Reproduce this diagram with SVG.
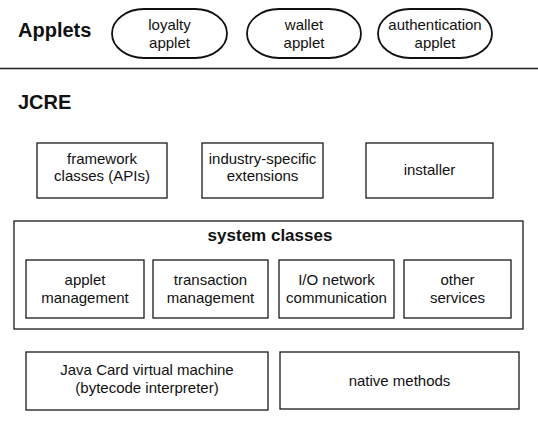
<svg xmlns="http://www.w3.org/2000/svg" width="538" height="427" viewBox="0 0 538 427">
<style>
  .bg{fill:#fff}
  .box{fill:none;stroke:#1a1a1a;stroke-width:1.3}
  .pill{fill:none;stroke:#111;stroke-width:1.8}
  .t{font-family:"Liberation Sans",Arial,sans-serif;font-size:15px;fill:#111;text-anchor:middle}
  .h{font-family:"Liberation Sans",Arial,sans-serif;font-size:20px;font-weight:bold;fill:#111}
  .hb{font-family:"Liberation Sans",Arial,sans-serif;font-size:17px;font-weight:bold;fill:#111;text-anchor:middle}
  .sep{stroke:#222;stroke-width:1.4}
</style>
<rect class="bg" x="0" y="0" width="538" height="427"/>
<text class="h" x="18" y="37">Applets</text>
<g id="loyalty">
  <rect class="pill" x="112" y="9" width="115" height="49" rx="32" ry="24.5"/>
  <text class="t" x="169.5" y="30">loyalty</text>
  <text class="t" x="169.5" y="48">applet</text>
</g>
<g id="wallet">
  <rect class="pill" x="247" y="9" width="114" height="49" rx="32" ry="24.5"/>
  <text class="t" x="304" y="30">wallet</text>
  <text class="t" x="304" y="48">applet</text>
</g>
<g id="authentication">
  <rect class="pill" x="378" y="9" width="114" height="49" rx="32" ry="24.5"/>
  <text class="t" x="435" y="30">authentication</text>
  <text class="t" x="435" y="48">applet</text>
</g>
<line class="sep" x1="0" y1="68.5" x2="538" y2="68.5"/>
<text class="h" x="18" y="109">JCRE</text>
<g id="framework">
  <rect class="box" x="37" y="143" width="130" height="55"/>
  <text class="t" x="102" y="164">framework</text>
  <text class="t" x="102" y="181">classes (APIs)</text>
</g>
<g id="industry">
  <rect class="box" x="202" y="143" width="121" height="55"/>
  <text class="t" x="262.5" y="164">industry-specific</text>
  <text class="t" x="262.5" y="181">extensions</text>
</g>
<g id="installer">
  <rect class="box" x="366" y="143" width="127" height="55"/>
  <text class="t" x="429.5" y="175">installer</text>
</g>
<g id="system">
  <rect class="box" x="14" y="221" width="509" height="108"/>
  <text class="hb" x="270" y="241">system classes</text>
</g>
<g id="appletmgmt">
  <rect class="box" x="26" y="260" width="118" height="58"/>
  <text class="t" x="85" y="285">applet</text>
  <text class="t" x="85" y="303">management</text>
</g>
<g id="transaction">
  <rect class="box" x="153" y="260" width="115" height="58"/>
  <text class="t" x="210.5" y="285">transaction</text>
  <text class="t" x="210.5" y="303">management</text>
</g>
<g id="io">
  <rect class="box" x="279" y="260" width="115" height="58"/>
  <text class="t" x="336.5" y="285">I/O network</text>
  <text class="t" x="336.5" y="303">communication</text>
</g>
<g id="other">
  <rect class="box" x="404" y="260" width="107" height="58"/>
  <text class="t" x="457.5" y="285">other</text>
  <text class="t" x="457.5" y="303">services</text>
</g>
<g id="jcvm">
  <rect class="box" x="26" y="352" width="242" height="58"/>
  <text class="t" x="147" y="375">Java Card virtual machine</text>
  <text class="t" x="147" y="393">(bytecode interpreter)</text>
</g>
<g id="native">
  <rect class="box" x="280" y="352" width="239" height="57"/>
  <text class="t" x="399.5" y="386">native methods</text>
</g>
<g id="connectors"></g>
</svg>
